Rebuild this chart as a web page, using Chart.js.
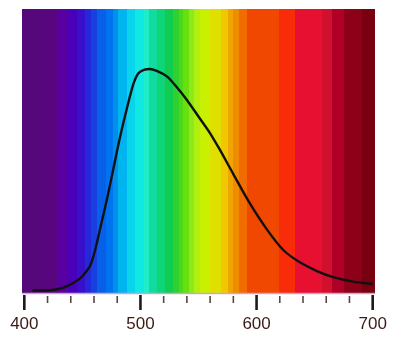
<!DOCTYPE html>
<html><head><meta charset="utf-8">
<script src="https://cdn.jsdelivr.net/npm/chart.js@4"></script>
<style>html,body{margin:0;padding:0;background:#fff;}#wrap{width:400px;height:356px;position:relative;}</style>
</head><body><div id="wrap"><canvas id="c" width="400" height="356"></canvas></div>
<script>
// Curve (relative intensity vs wavelength, nm)
const wavelengths = [407,422,431,437,442,448,453,457,461,465,471,477,480,484,488,494,498,503,508,514,523,531,540,551,560,567,580,594,609,623,637,652,666,683,700];
const sensitivity = [0.011,0.012,0.020,0.031,0.045,0.065,0.094,0.125,0.192,0.281,0.415,0.563,0.638,0.732,0.817,0.935,0.980,0.996,1.0,0.992,0.966,0.921,0.862,0.780,0.713,0.652,0.531,0.402,0.283,0.192,0.138,0.098,0.071,0.051,0.040];
// Spectrum background bands (edges in nm) and colours
const bandEdges = [398,414,428,438,445,452,457,463,470,476,481,488,495,503,507,514,521,528,533,537,542,546,551,560,569,575,580,585,592,619,633,656,665,675,691,702];
const bandColors = ['#55087a','#5a0580','#5800a0','#4a00b8','#3810cc','#2428d8','#1840e0','#0860e8','#0074f0','#0090ec','#00b4f0','#08d4ec','#10e8e4','#20ecc8','#10dca0','#10d478','#10cc50','#30d030','#4cd818','#68e010','#90e818','#b0f010','#c8f000','#e0e000','#f0c800','#f0a400','#f08c00','#f06c00','#f04800','#f82c08','#e81030','#d0102c','#b00028','#8c0018','#780010'];
const majorTicks = [400,500,600,700];
const minorTicks = [420,440,460,480,520,540,560,580,620,640,660,680];

const spectrumPlugin = {
  id: 'spectrum',
  beforeDatasetsDraw(chart) {
    const {ctx, chartArea: a, scales: {x}} = chart;
    ctx.save();
    for (let i = 0; i < bandColors.length; i++) {
      const x0 = Math.round(x.getPixelForValue(bandEdges[i]));
      const x1 = Math.round(x.getPixelForValue(bandEdges[i + 1]));
      ctx.fillStyle = bandColors[i];
      ctx.fillRect(x0, a.top, x1 - x0, a.bottom - a.top);
    }
    ctx.restore();
  },
  afterDraw(chart) {
    const {ctx, chartArea: a, scales: {x}} = chart;
    ctx.save();
    ctx.strokeStyle = '#c9a6cf';
    ctx.lineWidth = 1.5;
    ctx.beginPath();
    ctx.moveTo(a.left, a.bottom + 0.5);
    ctx.lineTo(a.right, a.bottom + 0.5);
    ctx.stroke();
    ctx.strokeStyle = '#5a4646';
    ctx.lineWidth = 1.6;
    for (const v of minorTicks) {
      const px = x.getPixelForValue(v);
      ctx.beginPath(); ctx.moveTo(px, a.bottom + 3); ctx.lineTo(px, a.bottom + 10); ctx.stroke();
    }
    ctx.strokeStyle = '#1e1a1a';
    ctx.lineWidth = 2.6;
    for (const v of majorTicks) {
      const px = x.getPixelForValue(v);
      ctx.beginPath(); ctx.moveTo(px, a.bottom + 2); ctx.lineTo(px, a.bottom + 17); ctx.stroke();
    }
    ctx.restore();
  }
};

new Chart(document.getElementById('c'), {
  type: 'line',
  data: {
    datasets: [{
      data: wavelengths.map((w, i) => ({x: w, y: sensitivity[i]})),
      borderColor: '#111111',
      borderWidth: 2.4,
      pointRadius: 0,
      fill: false,
      cubicInterpolationMode: 'monotone'
    }]
  },
  options: {
    responsive: false,
    devicePixelRatio: 1,
    animation: false,
    layout: {padding: {left: 22, right: 25, top: 9, bottom: 22}},
    plugins: {legend: {display: false}, tooltip: {enabled: false}},
    scales: {
      x: {
        type: 'linear', min: 398, max: 702,
        grid: {display: false}, border: {display: false},
        afterBuildTicks: (s) => { s.ticks = majorTicks.map(v => ({value: v})); },
        afterFit: (s) => { s.height = 41; s.paddingLeft = 0; s.paddingRight = 0; },
        ticks: {maxRotation: 0, autoSkip: false, padding: 13, color: '#3b1b14',
          font: {family: "'Liberation Sans', Arial, sans-serif", size: 17}}
      },
      y: {display: false, min: 0, max: 1.268}
    }
  },
  plugins: [spectrumPlugin]
});
</script></body></html>
